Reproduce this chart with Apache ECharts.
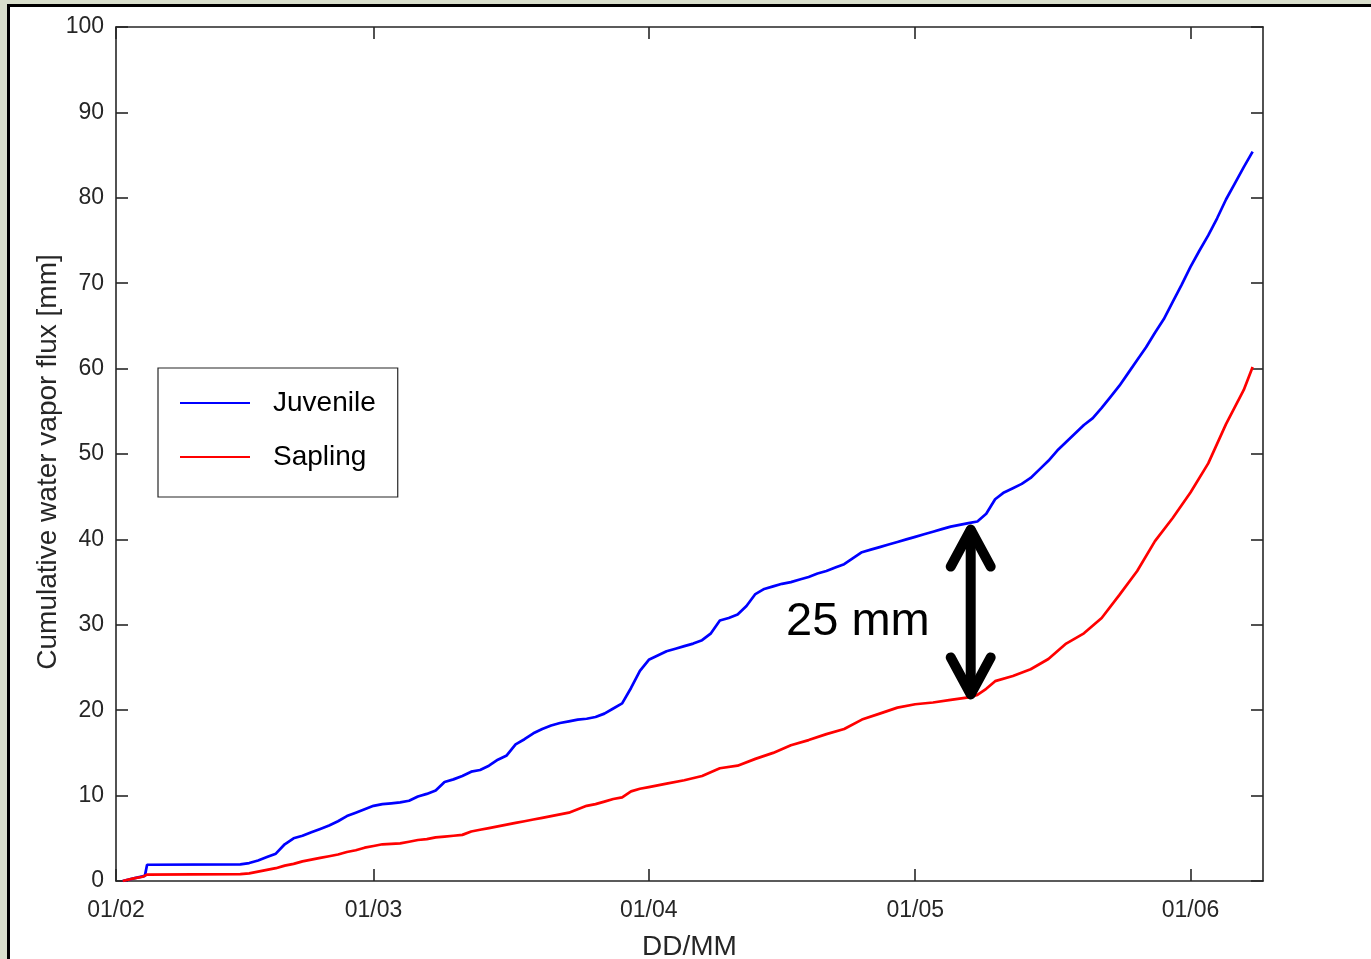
<!DOCTYPE html>
<html style="height: 100%">
<head>
<meta charset="utf-8">
<style>
  body { margin: 0; height: 100%; background: #d9dfcc; overflow: hidden; }
  #frame { position: absolute; left: 7px; top: 4px; width: 1400px; height: 1000px;
           border: 3px solid #000; background: #fff; }
  #container { position: absolute; left: 0; top: 0; width: 1371px; height: 959px; }
</style>
</head>
<body>
	<div id="frame"></div>
	<div id="container"></div>
	<script type="text/javascript" src="https://cdn.jsdelivr.net/npm/echarts@6/dist/echarts.min.js"></script>
	<script type="text/javascript">
		// ---- data ----
		var xTickDates = ['2016-02-01', '2016-03-01', '2016-04-01', '2016-05-01', '2016-06-01'];
		var xMinDate = '2016-02-01';
		var xMaxDate = '2016-06-09 04:00';
		var yTicks = [0, 10, 20, 30, 40, 50, 60, 70, 80, 90, 100];

		var juvenileDates = ['2016-02-01 18:00', '2016-02-03', '2016-02-04 06:00', '2016-02-04 12:00',
			'2016-02-15', '2016-02-16', '2016-02-17', '2016-02-18', '2016-02-19', '2016-02-20',
			'2016-02-21', '2016-02-22', '2016-02-23', '2016-02-24', '2016-02-25', '2016-02-26',
			'2016-02-27', '2016-02-28', '2016-02-29', '2016-03-01', '2016-03-02', '2016-03-03',
			'2016-03-04', '2016-03-05', '2016-03-06', '2016-03-07', '2016-03-08', '2016-03-09',
			'2016-03-10', '2016-03-11', '2016-03-12', '2016-03-13', '2016-03-14', '2016-03-15',
			'2016-03-16', '2016-03-17', '2016-03-18', '2016-03-19', '2016-03-20', '2016-03-21',
			'2016-03-22', '2016-03-23', '2016-03-24', '2016-03-25', '2016-03-26', '2016-03-27',
			'2016-03-28', '2016-03-29', '2016-03-30', '2016-03-31', '2016-04-01', '2016-04-02',
			'2016-04-03', '2016-04-04', '2016-04-05', '2016-04-06', '2016-04-07', '2016-04-08',
			'2016-04-09', '2016-04-10', '2016-04-11', '2016-04-12', '2016-04-13', '2016-04-14',
			'2016-04-15', '2016-04-16', '2016-04-17', '2016-04-18', '2016-04-19', '2016-04-20',
			'2016-04-21', '2016-04-22', '2016-04-23', '2016-04-24', '2016-04-25', '2016-04-26',
			'2016-04-27', '2016-04-28', '2016-04-29', '2016-04-30', '2016-05-01', '2016-05-02',
			'2016-05-03', '2016-05-04', '2016-05-05', '2016-05-06', '2016-05-07', '2016-05-08',
			'2016-05-09', '2016-05-10', '2016-05-11', '2016-05-12', '2016-05-13', '2016-05-14',
			'2016-05-15', '2016-05-16', '2016-05-17', '2016-05-18', '2016-05-19', '2016-05-20',
			'2016-05-21', '2016-05-22', '2016-05-23', '2016-05-24', '2016-05-25', '2016-05-26',
			'2016-05-27', '2016-05-28', '2016-05-29', '2016-05-30', '2016-05-31', '2016-06-01',
			'2016-06-02', '2016-06-03', '2016-06-04', '2016-06-05', '2016-06-06', '2016-06-07',
			'2016-06-08'];
		var juvenileValues = [0, 0.3, 0.6, 1.9,
			1.95, 2.1, 2.4, 2.8, 3.2, 4.3,
			5.0, 5.3, 5.7, 6.1, 6.5, 7.0,
			7.6, 8.0, 8.4, 8.8, 9.0, 9.1,
			9.2, 9.4, 9.9, 10.2, 10.6, 11.6,
			11.9, 12.3, 12.8, 13.0, 13.5, 14.2,
			14.7, 16.0, 16.6, 17.3, 17.8, 18.2,
			18.5, 18.7, 18.9, 19.0, 19.2, 19.6,
			20.2, 20.8, 22.6, 24.6, 25.9, 26.4,
			26.9, 27.2, 27.5, 27.8, 28.2, 29.0,
			30.5, 30.8, 31.2, 32.2, 33.6, 34.2,
			34.5, 34.8, 35.0, 35.3, 35.6, 36.0,
			36.3, 36.7, 37.1, 37.8, 38.5, 38.8,
			39.1, 39.4, 39.7, 40.0, 40.3, 40.6,
			40.9, 41.2, 41.5, 41.7, 41.9, 42.1,
			43.0, 44.7, 45.5, 46.0, 46.5, 47.2,
			48.2, 49.2, 50.4, 51.4, 52.4, 53.4,
			54.2, 55.4, 56.7, 58.0, 59.5, 61.0,
			62.5, 64.2, 65.8, 67.8, 69.8, 71.9,
			73.8, 75.6, 77.6, 79.8, 81.7, 83.6,
			85.4];

		var saplingDates = ['2016-02-01 18:00', '2016-02-03', '2016-02-04', '2016-02-04 12:00',
			'2016-02-15', '2016-02-16', '2016-02-17', '2016-02-18', '2016-02-19', '2016-02-20',
			'2016-02-21', '2016-02-22', '2016-02-23', '2016-02-24', '2016-02-25', '2016-02-26',
			'2016-02-27', '2016-02-28', '2016-02-29', '2016-03-01', '2016-03-02', '2016-03-03',
			'2016-03-04', '2016-03-05', '2016-03-06', '2016-03-07', '2016-03-08', '2016-03-09',
			'2016-03-10', '2016-03-11', '2016-03-12', '2016-03-13', '2016-03-14', '2016-03-15',
			'2016-03-16', '2016-03-17', '2016-03-18', '2016-03-19', '2016-03-20', '2016-03-21',
			'2016-03-22', '2016-03-23', '2016-03-24', '2016-03-25', '2016-03-26', '2016-03-27',
			'2016-03-28', '2016-03-29', '2016-03-30', '2016-03-31', '2016-04-01', '2016-04-03',
			'2016-04-05', '2016-04-07', '2016-04-09', '2016-04-11', '2016-04-13', '2016-04-15',
			'2016-04-17', '2016-04-19', '2016-04-21', '2016-04-23', '2016-04-25', '2016-04-27',
			'2016-04-29', '2016-05-01', '2016-05-03', '2016-05-05', '2016-05-07', '2016-05-08',
			'2016-05-09', '2016-05-10', '2016-05-12', '2016-05-14', '2016-05-16', '2016-05-18',
			'2016-05-20', '2016-05-22', '2016-05-24', '2016-05-26', '2016-05-28', '2016-05-30',
			'2016-06-01', '2016-06-03', '2016-06-05', '2016-06-07', '2016-06-08'];
		var saplingValues = [0, 0.3, 0.5, 0.75,
			0.8, 0.9, 1.1, 1.3, 1.5, 1.8,
			2.0, 2.3, 2.5, 2.7, 2.9, 3.1,
			3.4, 3.6, 3.9, 4.1, 4.3, 4.35,
			4.4, 4.6, 4.8, 4.9, 5.1, 5.2,
			5.3, 5.4, 5.8, 6.0, 6.2, 6.4,
			6.6, 6.8, 7.0, 7.2, 7.4, 7.6,
			7.8, 8.0, 8.4, 8.8, 9.0, 9.3,
			9.6, 9.8, 10.5, 10.8, 11.0, 11.4,
			11.8, 12.3, 13.2, 13.5, 14.3, 15.0,
			15.9, 16.5, 17.2, 17.8, 18.9, 19.6,
			20.3, 20.7, 20.9, 21.2, 21.5, 21.8,
			22.5, 23.4, 24.0, 24.8, 26.0, 27.8,
			29.0, 30.8, 33.5, 36.3, 39.8, 42.5,
			45.5, 48.9, 53.5, 57.5, 60.2];

		// annotation: double arrow between the curves
		var arrowDate = '2016-05-07 06:00';
		var arrowTop = 41.5;
		var arrowBottom = 21.5;
		var arrowLabel = '25 mm';
		var arrowLabelValue = 30.3;

		// ---- helpers ----
		function toTs(s) {
			var parts = s.split(' ');
			var d = parts[0].split('-');
			var h = 0, m = 0;
			if (parts[1]) {
				var t = parts[1].split(':');
				h = +t[0];
				m = +t[1];
			}
			return Date.UTC(+d[0], +d[1] - 1, +d[2], h, m);
		}
		function pad(n) {
			return n < 10 ? '0' + n : '' + n;
		}
		function fmtDate(v) {
			var d = new Date(v);
			return pad(d.getUTCDate()) + '/' + pad(d.getUTCMonth() + 1);
		}
		function zip(dates, vals) {
			return dates.map(function(d, i) {
				return [toTs(d), vals[i]];
			});
		}

		var axisColor = '#262626';
		var font = '"Liberation Sans", Arial, Helvetica, sans-serif';
		var xTicks = xTickDates.map(toTs);

		var dom = document.getElementById('container');
		var myChart = echarts.init(dom, null, { renderer: 'canvas' });

		var xBase = {
			type : 'value',
			min : toTs(xMinDate),
			max : toTs(xMaxDate),
			axisLine : { onZero : false, lineStyle : { color : axisColor, width : 1.6 } },
			axisTick : { inside : true, length : 12, customValues : xTicks,
				lineStyle : { color : axisColor, width : 1.6 } },
			splitLine : { show : false }
		};
		var yBase = {
			type : 'value',
			min : 0,
			max : 100,
			interval : 10,
			axisLine : { show : true, lineStyle : { color : axisColor, width : 1.6 } },
			axisTick : { show : true, inside : true, length : 12,
				lineStyle : { color : axisColor, width : 1.6 } },
			splitLine : { show : false }
		};

		var option = {
			animation : false,
			backgroundColor : 'transparent',
			textStyle : { fontFamily : font },
			grid : { left : 116, right : 108, top : 27, bottom : 78, outerBoundsMode : 'none', containLabel : false },
			legend : {
				orient : 'vertical',
				left : 158,
				top : 368,
				padding : [21, 22, 26, 21],
				itemGap : 26,
				itemWidth : 70,
				itemHeight : 28,
				backgroundColor : '#fff',
				borderColor : axisColor,
				borderWidth : 1.2,
				itemStyle : { opacity : 0 },
				textStyle : { fontFamily : font, fontSize : 28, color : '#000',
					lineHeight : 28, padding : [0, 0, 0, 18] },
				data : ['Juvenile', 'Sapling']
			},
			xAxis : [
				echarts.util.merge({
					position : 'bottom',
					name : 'DD/MM',
					nameLocation : 'middle',
					nameGap : 52,
					nameMoveOverlap : false,
					nameTextStyle : { fontFamily : font, fontSize : 28, color : axisColor },
					axisLabel : { customValues : xTicks, formatter : fmtDate, margin : 18,
						fontFamily : font, fontSize : 23, color : axisColor }
				}, xBase, true),
				echarts.util.merge({
					position : 'top',
					axisLabel : { show : false }
				}, xBase, true)
			],
			yAxis : [
				echarts.util.merge({
					position : 'left',
					name : 'Cumulative water vapor flux [mm]',
					nameLocation : 'middle',
					nameGap : 54,
					nameMoveOverlap : false,
					nameTextStyle : { fontFamily : font, fontSize : 28, color : axisColor,
						padding : [0, 16, 0, 0] },
					axisLabel : { margin : 12, fontFamily : font, fontSize : 23, color : axisColor,
						customValues : yTicks }
				}, yBase, true),
				echarts.util.merge({
					position : 'right',
					axisLabel : { show : false }
				}, yBase, true)
			],
			series : [ {
				name : 'Juvenile',
				type : 'line',
				symbol : 'none',
				color : '#0000ff',
				lineStyle : { color : '#0000ff', width : 2.7 },
				data : zip(juvenileDates, juvenileValues)
			}, {
				name : 'Sapling',
				type : 'line',
				symbol : 'none',
				color : '#ff0000',
				lineStyle : { color : '#ff0000', width : 2.7 },
				data : zip(saplingDates, saplingValues)
			} ]
		};
		myChart.setOption(option);

		// arrow + label placed from data coordinates
		var finder = { xAxisIndex : 0, yAxisIndex : 0 };
		var pTop = myChart.convertToPixel(finder, [toTs(arrowDate), arrowTop]);
		var pBot = myChart.convertToPixel(finder, [toTs(arrowDate), arrowBottom]);
		var pLab = myChart.convertToPixel(finder, [toTs(arrowDate), arrowLabelValue]);
		var stroke = { stroke : '#000', lineWidth : 10, lineCap : 'round', lineJoin : 'round', fill : null };
		myChart.setOption({
			graphic : [ {
				type : 'polyline',
				shape : { points : [[pTop[0], pTop[1] + 4], [pBot[0], pBot[1] - 4]] },
				style : stroke,
				z : 100
			}, {
				type : 'polyline',
				shape : { points : [[pTop[0] - 20, pTop[1] + 40], [pTop[0], pTop[1] + 3], [pTop[0] + 20, pTop[1] + 40]] },
				style : stroke,
				z : 100
			}, {
				type : 'polyline',
				shape : { points : [[pBot[0] - 20, pBot[1] - 40], [pBot[0], pBot[1] - 3], [pBot[0] + 20, pBot[1] - 40]] },
				style : stroke,
				z : 100
			}, {
				type : 'text',
				x : pLab[0] - 41,
				y : pLab[1],
				style : { text : arrowLabel, fontFamily : font, fontSize : 47, fill : '#000',
					align : 'right', verticalAlign : 'middle' },
				z : 100
			} ]
		});
	</script>
</body>
</html>
